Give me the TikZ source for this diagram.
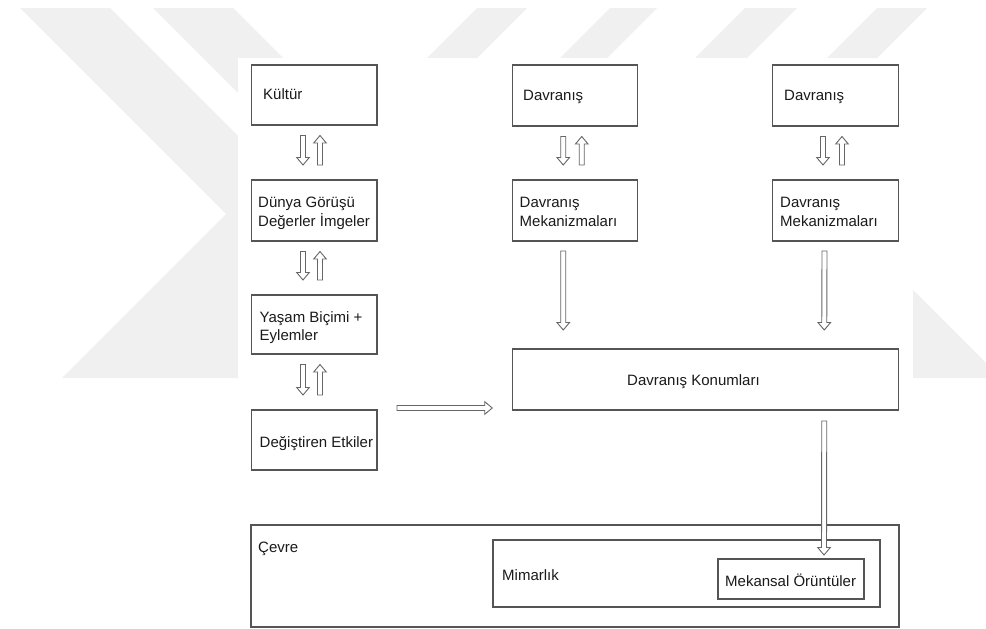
\documentclass[tikz,border=0pt]{standalone}
\usepackage{fontspec}
\setmainfont{Liberation Sans}
\usetikzlibrary{calc}

\definecolor{boxline}{HTML}{555555}
\definecolor{arrowline}{HTML}{666666}
\definecolor{txt}{HTML}{1A1A1A}
\definecolor{emblem}{HTML}{F0F0F0}

\tikzset{
  frame/.style 2 args={draw=boxline, line width=1.3pt, minimum width=#1,
    minimum height=#2, inner sep=0pt, outer sep=0pt},
  lbl/.style={text=txt, inner sep=0pt, anchor=base west,
    font=\fontsize{15}{18}\selectfont},
  % hollow block arrow drawn from the start point to the target point
  hollow/.style={draw=arrowline, line width=0.9pt, fill=white, line join=miter,
    to path={
      ($(\tikztotarget)!7.5pt!(\tikztostart)$) coordinate (hb)
      ($(\tikztostart)!2.5pt!90:(\tikztotarget)$)
      -- ($(hb)!2.5pt!90:(\tikztotarget)$)
      -- ($(hb)!6.3pt!90:(\tikztotarget)$)
      -- (\tikztotarget)
      -- ($(hb)!6.3pt!-90:(\tikztotarget)$)
      -- ($(hb)!2.5pt!-90:(\tikztotarget)$)
      -- ($(\tikztostart)!2.5pt!-90:(\tikztotarget)$)
      -- cycle}}
}

% a pair of opposite hollow arrows between two stacked boxes
\newcommand\pairarrows[5]{%
  \coordinate (#5-ds) at ($(#1.south)+(#3,10.5)$);
  \coordinate (#5-de) at ($(#2.north)+(#3,-15)$);
  \coordinate (#5-us) at ($(#2.north)+(#4,-15)$);
  \coordinate (#5-ue) at ($(#1.south)+(#4,10.5)$);
  \draw[hollow] (#5-ds) to (#5-de);
  \draw[hollow] (#5-us) to (#5-ue);}

\begin{document}
\begin{tikzpicture}[x=1pt,y=-1pt]
\useasboundingbox (0,0) rectangle (986,629);
\fill[white] (0,0) rectangle (986,629);

% faint background emblem
\fill[emblem] (20,8) -- (110,8) -- (480,378) -- (390,378) -- cycle;
\fill[emblem] (153,8) -- (233,8) -- (603,378) -- (523,378) -- cycle;
\fill[emblem] (62,378) -- (262,178) -- (420,178) -- (420,378) -- cycle;
\fill[emblem] (477,8) -- (527,8) -- (457,78) -- (407,78) -- cycle;
\fill[emblem] (610,8) -- (657,8) -- (587,78) -- (540,78) -- cycle;
\fill[emblem] (745,8) -- (797,8) -- (727,78) -- (675,78) -- cycle;
\fill[emblem] (877,8) -- (927,8) -- (857,78) -- (807,78) -- cycle;
\fill[emblem] (1001,378) -- (800,177) -- (700,177) -- (700,378) -- cycle;
\fill[white] (238,58) rectangle (913,629);

% left column
\node[frame={125.5pt}{60pt}] (kultur) at (314.25,95) {};
\node[frame={125.5pt}{61pt}] (dunya)  at (314.25,210.5) {};
\node[frame={125.5pt}{59pt}] (yasam)  at (314.25,324.5) {};
\node[frame={125.5pt}{60pt}] (degis)  at (314.25,440) {};

% middle and right columns
\node[frame={125pt}{61pt}] (dav1) at (574.75,95.5) {};
\node[frame={125pt}{61pt}] (mek1) at (574.75,210.5) {};
\node[frame={125.5pt}{61pt}] (dav2) at (835.5,95.5) {};
\node[frame={125.5pt}{61pt}] (mek2) at (835.5,210.5) {};
\node[frame={386pt}{61pt}] (konum) at (705.25,379.5) {};

% environment, architecture, spatial patterns
\node[frame={648pt}{102pt}] (cevre) at (575,576) {};
\node[frame={387pt}{67pt}] (mimar) at (686.5,573.5) {};
\node[frame={146pt}{40pt}] (mekan) at (791,579) {};

% labels
\node[lbl] (t-kultur) at (263,99.5) {Kültür};
\node[lbl] (t-dunya1) at (258,207.5) {Dünya Görüşü};
\node[lbl] (t-dunya2) at (258,226.5) {Değerler İmgeler};
\node[lbl] (t-yasam1) at (259.5,322.5) {Yaşam Biçimi +};
\node[lbl] (t-yasam2) at (259.5,340.5) {Eylemler};
\node[lbl] (t-degis)  at (259.5,447) {Değiştiren Etkiler};
\node[lbl] (t-dav1)   at (523,100.5) {Davranış};
\node[lbl] (t-mek1a)  at (519.5,207) {Davranış};
\node[lbl] (t-mek1b)  at (519.5,226) {Mekanizmaları};
\node[lbl] (t-dav2)   at (784,100.5) {Davranış};
\node[lbl] (t-mek2a)  at (780,207) {Davranış};
\node[lbl] (t-mek2b)  at (780,226) {Mekanizmaları};
\node[lbl, anchor=base] (t-konum) at (693.5,385.5) {Davranış Konumları};
\node[lbl] (t-cevre)  at (258,552) {Çevre};
\node[lbl] (t-mimar)  at (502,580) {Mimarlık};
\node[lbl] (t-mekan)  at (725,586.5) {Mekansal Örüntüler};

% two-way links
\pairarrows{kultur}{dunya}{-11.25}{5.75}{p1}
\pairarrows{dunya}{yasam}{-11.25}{5.75}{p2}
\pairarrows{yasam}{degis}{-11.25}{5.75}{p3}
\pairarrows{dav1}{mek1}{-11.5}{7}{p4}
\pairarrows{dav2}{mek2}{-12.5}{6.5}{p5}

% one-way links
\coordinate (m1s) at ($(mek1.south)+(-11.5,10)$);
\coordinate (m1e) at ($(konum.north west)+(51,-19)$);
\draw[hollow] (m1s) to (m1e);
\coordinate (m2s) at ($(mek2.south)+(-11,10)$);
\coordinate (m2e) at ($(konum.north east)+(-74,-19)$);
\draw[hollow] (m2s) to (m2e);
\coordinate (kns) at ($(konum.south east)+(-74,11)$);
\coordinate (kne) at ($(mekan.north)+(33,-4)$);
\draw[hollow] (kns) to (kne);
\coordinate (des) at ($(degis.east)+(20,-32)$);
\coordinate (dee) at ($(konum.south west)+(-20,-2)$);
\draw[hollow] (des) to (dee);
\end{tikzpicture}
\end{document}
